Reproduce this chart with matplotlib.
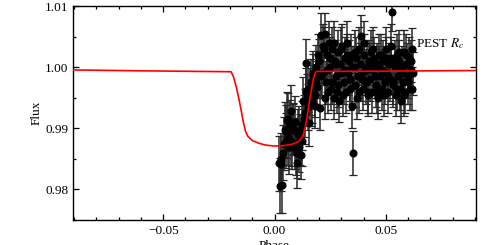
import numpy as np
import matplotlib
matplotlib.use("Agg")
import matplotlib.pyplot as plt

plt.rcParams['font.family'] = ['Liberation Serif', 'DejaVu Serif']
plt.rcParams['mathtext.fontset'] = 'stix'

# observed points (phase, relative flux, error)
phase = [0.0020, 0.0025, 0.0030, 0.0035, 0.0040, 0.0045, 0.0050, 0.0055, 0.0060, 0.0065,
         0.0070, 0.0075, 0.0080, 0.0085, 0.0090, 0.0095, 0.0100, 0.0105, 0.0110, 0.0115,
         0.0120, 0.0125, 0.0130, 0.0135, 0.0140, 0.0145, 0.0150, 0.0155, 0.0160, 0.0165,
         0.0170, 0.0175, 0.0180, 0.0185, 0.0190, 0.0195, 0.0200, 0.0205, 0.0210, 0.0215,
         0.0220, 0.0225, 0.0230, 0.0235, 0.0240, 0.0245, 0.0250, 0.0255, 0.0260, 0.0265,
         0.0270, 0.0275, 0.0280, 0.0285, 0.0290, 0.0295, 0.0300, 0.0305, 0.0310, 0.0315,
         0.0320, 0.0325, 0.0330, 0.0335, 0.0340, 0.0345, 0.0349, 0.0352, 0.0358, 0.0363,
         0.0368, 0.0373, 0.0378, 0.0383, 0.0389, 0.0394, 0.0399, 0.0404, 0.0409, 0.0414,
         0.0419, 0.0424, 0.0429, 0.0434, 0.0439, 0.0444, 0.0449, 0.0454, 0.0459, 0.0464,
         0.0469, 0.0474, 0.0479, 0.0484, 0.0489, 0.0494, 0.0499, 0.0504, 0.0509, 0.0514,
         0.0519, 0.0524, 0.0528, 0.0534, 0.0539, 0.0544, 0.0549, 0.0554, 0.0559, 0.0564,
         0.0568, 0.0573, 0.0578, 0.0583, 0.0588, 0.0593, 0.0598, 0.0603, 0.0608, 0.0613,
         0.0617, 0.0620,
         0.0027, 0.0042, 0.0052, 0.0062, 0.0072, 0.0082, 0.0092, 0.0102, 0.0112, 0.0122,
         0.0132, 0.0142, 0.0152, 0.0162, 0.0172, 0.0182,
         0.0187, 0.0197, 0.0207, 0.0217, 0.0227, 0.0237, 0.0247, 0.0257, 0.0267, 0.0277,
         0.0287, 0.0297, 0.0307, 0.0317, 0.0327, 0.0337, 0.0347, 0.0361, 0.0371, 0.0381,
         0.0391, 0.0401, 0.0411, 0.0421, 0.0431, 0.0441, 0.0451, 0.0461, 0.0471, 0.0481,
         0.0491, 0.0501, 0.0511, 0.0521, 0.0531, 0.0541, 0.0551, 0.0561, 0.0571, 0.0581,
         0.0591, 0.0601, 0.0611, 0.0619]
flux = [0.9843, 0.9806, 0.9842, 0.9807, 0.9860, 0.9898, 0.9880, 0.9914, 0.9885, 0.9870,
        0.9905, 0.9928, 0.9875, 0.9898, 0.9910, 0.9865, 0.9844, 0.9890, 0.9870, 0.9882,
        0.9857, 0.9905, 0.9944, 0.9925, 1.0006, 0.9950, 0.9935, 0.9909, 0.9960, 0.9975,
        0.9945, 0.9985, 0.9936, 1.0000, 0.9968, 0.9990, 1.0010, 0.9934, 1.0053, 0.9990,
        1.0030, 1.0054, 0.9975, 1.0020, 0.9960, 1.0040, 1.0000, 0.9965, 1.0030, 0.9950,
        1.0010, 0.9985, 0.9960, 1.0025, 0.9945, 1.0005, 0.9990, 1.0035, 0.9975, 1.0015,
        0.9960, 1.0040, 0.9990, 1.0010, 0.9980, 1.0020, 0.9936, 0.9860, 1.0000, 0.9970,
        1.0015, 0.9985, 0.9960, 1.0005, 1.0051, 0.9990, 0.9965, 1.0020, 0.9975, 1.0000,
        0.9955, 1.0010, 0.9980, 1.0025, 0.9960, 0.9995, 1.0015, 0.9970, 1.0005, 0.9950,
        1.0000, 0.9985, 1.0020, 0.9965, 1.0010, 0.9975, 1.0030, 0.9990, 0.9960, 1.0005,
        0.9980, 1.0015, 1.0091, 0.9970, 1.0000, 0.9955, 1.0020, 0.9985, 1.0010, 0.9965,
        0.9944, 1.0000, 0.9975, 1.0025, 0.9960, 1.0005, 0.9985, 1.0015, 0.9965, 0.9995,
        1.0029, 0.9990,
        0.9850, 0.9875, 0.9895, 0.9915, 0.9880, 0.9900, 0.9875, 0.9860, 0.9895, 0.9880,
        0.9915, 0.9960, 0.9965, 0.9940, 0.9990, 0.9955,
        0.9975, 1.0020, 0.9985, 1.0035, 0.9950, 0.9995, 1.0015, 0.9975, 1.0040, 1.0005,
        0.9970, 1.0030, 0.9955, 0.9995, 1.0020, 0.9965, 1.0000, 1.0025, 0.9950, 1.0030,
        0.9980, 1.0040, 0.9995, 0.9960, 1.0005, 1.0030, 0.9985, 0.9960, 1.0020, 0.9995,
        0.9955, 1.0015, 0.9985, 1.0035, 0.9975, 1.0010, 0.9965, 1.0025, 0.9990, 0.9955,
        1.0020, 0.9975, 1.0010, 0.9965]
err = [0.0045, 0.0045, 0.0045, 0.0045, 0.0045, 0.0045, 0.0045, 0.0045, 0.0045, 0.0045,
       0.0042, 0.0042, 0.0042, 0.0042, 0.0042, 0.0042, 0.0042, 0.0042, 0.0042, 0.0042,
       0.0040, 0.0040, 0.0040, 0.0040, 0.0040, 0.0038, 0.0038, 0.0038, 0.0038, 0.0038,
       0.0036, 0.0036, 0.0036, 0.0036, 0.0036, 0.0036, 0.0036, 0.0036, 0.0036, 0.0036,
       0.0035, 0.0035, 0.0035, 0.0035, 0.0035, 0.0035, 0.0035, 0.0035, 0.0035, 0.0035,
       0.0035, 0.0035, 0.0035, 0.0035, 0.0035, 0.0035, 0.0035, 0.0035, 0.0035, 0.0035,
       0.0035, 0.0035, 0.0035, 0.0035, 0.0035, 0.0035, 0.0036, 0.0036, 0.0035, 0.0035,
       0.0035, 0.0035, 0.0035, 0.0035, 0.0035, 0.0035, 0.0035, 0.0035, 0.0035, 0.0035,
       0.0035, 0.0035, 0.0035, 0.0035, 0.0035, 0.0035, 0.0035, 0.0035, 0.0035, 0.0035,
       0.0035, 0.0035, 0.0035, 0.0035, 0.0035, 0.0035, 0.0035, 0.0035, 0.0035, 0.0035,
       0.0035, 0.0035, 0.0032, 0.0035, 0.0035, 0.0035, 0.0035, 0.0035, 0.0035, 0.0035,
       0.0035, 0.0035, 0.0035, 0.0035, 0.0035, 0.0035, 0.0035, 0.0035, 0.0035, 0.0035,
       0.0035, 0.0035,
       0.0043, 0.0043, 0.0043, 0.0043, 0.0042, 0.0042, 0.0042, 0.0042, 0.0041, 0.0041,
       0.0040, 0.0039, 0.0038, 0.0037, 0.0036, 0.0036,
       0.0035, 0.0035, 0.0035, 0.0035, 0.0035, 0.0035, 0.0035, 0.0035, 0.0035, 0.0035,
       0.0035, 0.0035, 0.0035, 0.0035, 0.0035, 0.0035, 0.0035, 0.0035, 0.0035, 0.0035,
       0.0035, 0.0035, 0.0035, 0.0035, 0.0035, 0.0035, 0.0035, 0.0035, 0.0035, 0.0035,
       0.0035, 0.0035, 0.0035, 0.0035, 0.0035, 0.0035, 0.0035, 0.0035, 0.0035, 0.0035,
       0.0035, 0.0035, 0.0035, 0.0035]

# transit model (red)
model_phase = [-0.0920, -0.0600, -0.0195, -0.0185, -0.0172, -0.0160, -0.0150, -0.0140,
               -0.0130, -0.0120, -0.0100, -0.0070, -0.0040, 0.0000, 0.0040, 0.0080,
               0.0110, 0.0125, 0.0135, 0.0145, 0.0155, 0.0165, 0.0175, 0.0185, 0.0190,
               0.0500, 0.0920]
model_flux = [0.99955, 0.99940, 0.99925, 0.99850, 0.99680, 0.99480, 0.99300, 0.99100,
              0.98950, 0.98870, 0.98800, 0.98755, 0.98725, 0.98710, 0.98715, 0.98740,
              0.98790, 0.98860, 0.98960, 0.99150, 0.99400, 0.99620, 0.99820, 0.99920,
              0.99930, 0.99935, 0.99945]

fig = plt.figure(figsize=(4.91, 2.45), dpi=100)
ax = fig.add_axes([0.1487, 0.102, 0.8208, 0.8735])

ax.errorbar(phase, flux, yerr=err, fmt='o', color='black', ms=4.8,
            ecolor='0.15', elinewidth=1.1, capsize=3, capthick=0.9, zorder=2)
ax.plot(model_phase, model_flux, color='red', lw=1.2, zorder=3)
ax.text(0.0635, 1.0039, r'PEST $R_c$', fontsize=9.5, va='center', ha='left')

ax.set_xlim(-0.0905, 0.0905)
ax.set_ylim(0.9751, 1.01)
ax.set_xticks([-0.05, 0.00, 0.05])
ax.set_xticklabels(['\u22120.05', '0.00', '0.05'])
ax.set_yticks([0.98, 0.99, 1.00, 1.01])
ax.set_yticklabels(['0.98', '0.99', '1.00', '1.01'])
ax.set_xticks(np.arange(-0.09, 0.091, 0.01), minor=True)
ax.set_yticks([0.975, 0.985, 0.995, 1.005], minor=True)
ax.tick_params(which='both', direction='in', top=True, right=True, labelsize=9.5, width=0.9)
ax.tick_params(which='major', length=4)
ax.tick_params(which='minor', length=2.2)
for s in ax.spines.values():
    s.set_linewidth(1.0)
ax.set_xlabel('Phase', fontsize=9.5, labelpad=2)
ax.set_ylabel('Flux', fontsize=9.5, labelpad=1.5)

fig.savefig('out.png', dpi=100)
